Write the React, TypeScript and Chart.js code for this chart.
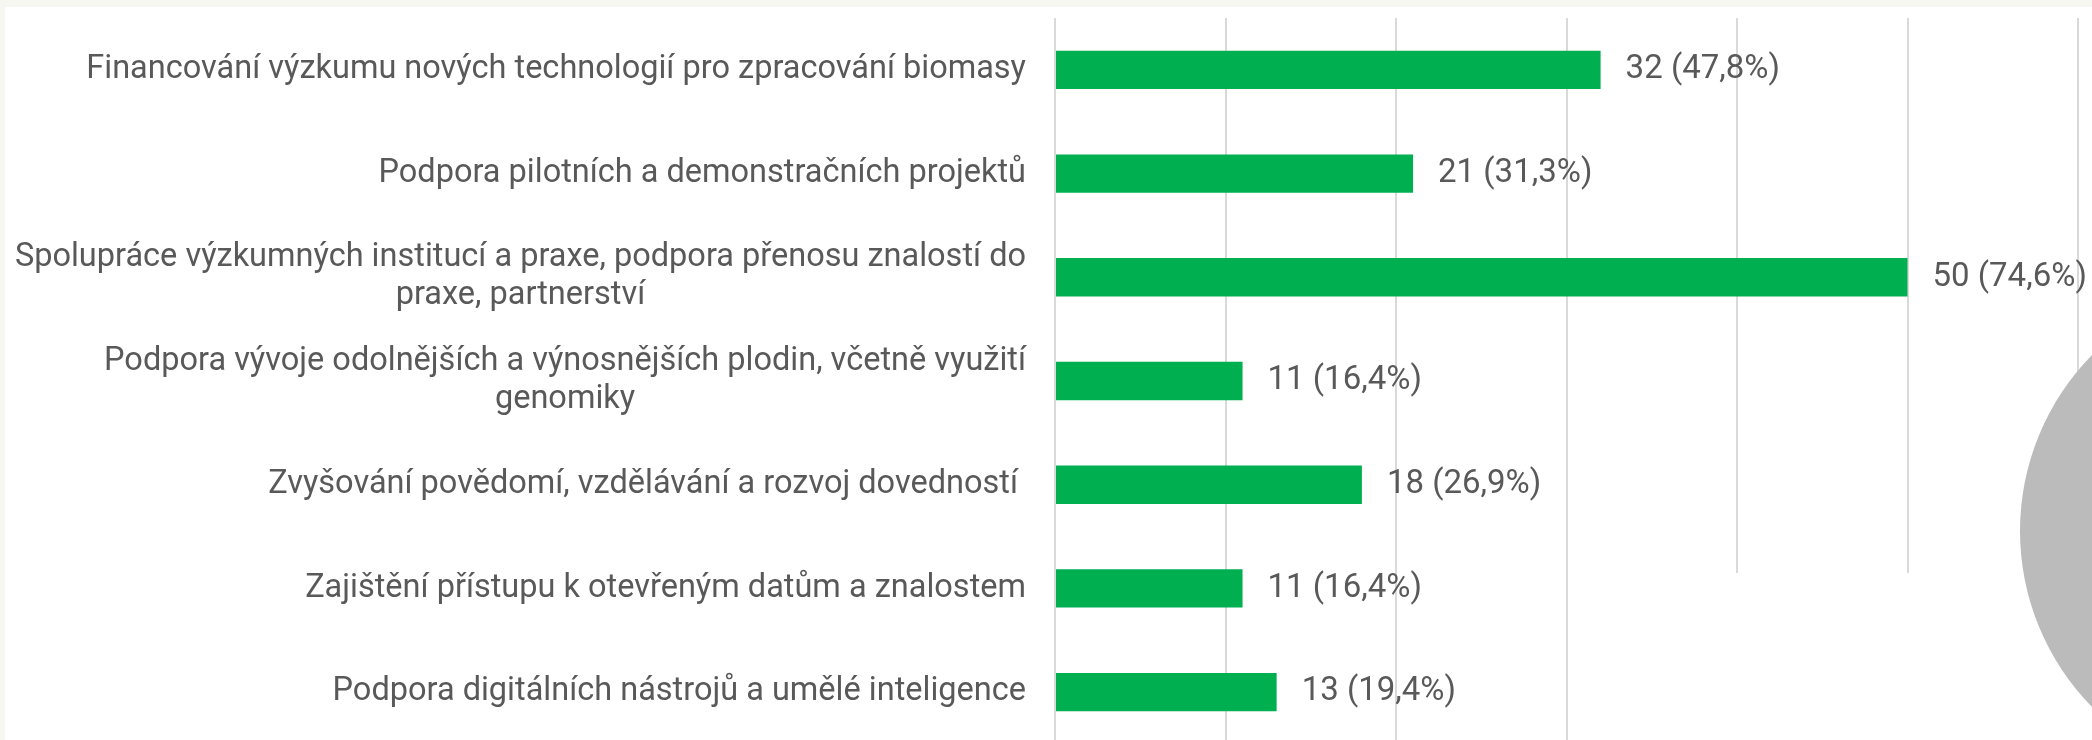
import { useEffect, useRef } from "react";
import { Chart, registerables } from "chart.js";

Chart.register(...registerables);

// ---- data ----
const categories: (string | string[])[] = [
  "Financování výzkumu nových technologií pro zpracování biomasy",
  "Podpora pilotních a demonstračních projektů",
  ["Spolupráce výzkumných institucí a praxe, podpora přenosu znalostí do", "praxe, partnerství"],
  ["Podpora vývoje odolnějších a výnosnějších plodin, včetně využití", "genomiky"],
  "Zvyšování povědomí, vzdělávání a rozvoj dovedností ",
  "Zajištění přístupu k otevřeným datům a znalostem",
  "Podpora digitálních nástrojů a umělé inteligence",
];
const counts = [32, 21, 50, 11, 18, 11, 13];
const percents = ["47,8", "31,3", "74,6", "16,4", "26,9", "16,4", "19,4"];
const xMin = 0;
const xMax = 60;
const xStep = 10;

// ---- styles ----
const TEXT = "#595959";
const BAR = "#00B050";
const GRID = "#D9D9D9";
const FONT_FAMILY = "Roboto, 'Noto Sans', sans-serif";
const FONT_SIZE = 32.5;
const VALUE_FONT_SIZE = 33;
const LABEL_RIGHT = 1026;
const LINE_H = 38;

const bgPlugin = {
  id: "bgPlugin",
  beforeDraw(chart: any) {
    const { ctx, width, height } = chart;
    ctx.save();
    ctx.fillStyle = "#F7F7F2";
    ctx.fillRect(0, 0, width, height);
    ctx.fillStyle = "#FFFFFF";
    ctx.fillRect(5, 7, width - 5, height - 7);
    ctx.restore();
  },
};

const coverPlugin = {
  id: "coverPlugin",
  afterDraw(chart: any) {
    const { ctx, width, height } = chart;
    ctx.save();
    ctx.fillStyle = "#FFFFFF";
    ctx.fillRect(1650, 573, width - 1650, height - 573);
    ctx.fillStyle = "#BBBBBB";
    ctx.beginPath();
    ctx.arc(2271, 531, 251, 0, Math.PI * 2);
    ctx.fill();
    ctx.restore();
  },
};

const categoryLabelPlugin = {
  id: "categoryLabelPlugin",
  afterDraw(chart: any) {
    const { ctx } = chart;
    const yScale = chart.scales.y;
    ctx.save();
    ctx.font = `${FONT_SIZE}px ${FONT_FAMILY}`;
    ctx.fillStyle = TEXT;
    ctx.textBaseline = "middle";
    ctx.textAlign = "center";
    categories.forEach((lab, i) => {
      const lines = Array.isArray(lab) ? lab : [lab];
      const w = Math.max(...lines.map((l) => ctx.measureText(l).width));
      const cx = LABEL_RIGHT - w / 2;
      const cy = yScale.getPixelForValue(i);
      lines.forEach((l, j) => {
        ctx.fillText(l, cx, cy + (j - (lines.length - 1) / 2) * LINE_H);
      });
    });
    ctx.restore();
  },
};

const valueLabelPlugin = {
  id: "valueLabelPlugin",
  afterDatasetsDraw(chart: any) {
    const { ctx } = chart;
    const meta = chart.getDatasetMeta(0);
    ctx.save();
    ctx.font = `${VALUE_FONT_SIZE}px ${FONT_FAMILY}`;
    ctx.fillStyle = TEXT;
    ctx.textBaseline = "middle";
    ctx.textAlign = "left";
    meta.data.forEach((bar: any, i: number) => {
      ctx.fillText(`${counts[i]} (${percents[i]}%)`, bar.x + 25, bar.y);
    });
    ctx.restore();
  },
};

export default function App() {
  const canvasRef = useRef<HTMLCanvasElement | null>(null);

  useEffect(() => {
    if (!canvasRef.current) return;
    const chart = new Chart(canvasRef.current, {
      type: "bar",
      data: {
        labels: categories as any,
        datasets: [
          {
            data: counts,
            backgroundColor: BAR,
            borderWidth: 0,
            categoryPercentage: 1,
            barPercentage: 0.37,
          },
        ],
      },
      options: {
        indexAxis: "y",
        animation: false,
        responsive: true,
        maintainAspectRatio: false,
        layout: { padding: { top: 18, right: 14, bottom: 0, left: 1055 } },
        plugins: {
          legend: { display: false },
          tooltip: { enabled: false },
          title: { display: false },
        },
        scales: {
          x: {
            type: "linear",
            min: xMin,
            max: xMax,
            position: "bottom",
            ticks: { display: false, stepSize: xStep },
            grid: { color: GRID, lineWidth: 2, drawTicks: false },
            border: { display: false },
          },
          y: {
            type: "category",
            display: false,
          },
        },
      },
      plugins: [bgPlugin, valueLabelPlugin, categoryLabelPlugin, coverPlugin],
    });
    return () => chart.destroy();
  }, []);

  return (
    <div
      style={{
        position: "fixed",
        left: 0,
        top: 0,
        width: 2092,
        height: 740,
        overflow: "hidden",
        background: "#FFFFFF",
      }}
    >
      <div style={{ position: "relative", width: 2092, height: 744 }}>
        <canvas ref={canvasRef} />
      </div>
    </div>
  );
}
